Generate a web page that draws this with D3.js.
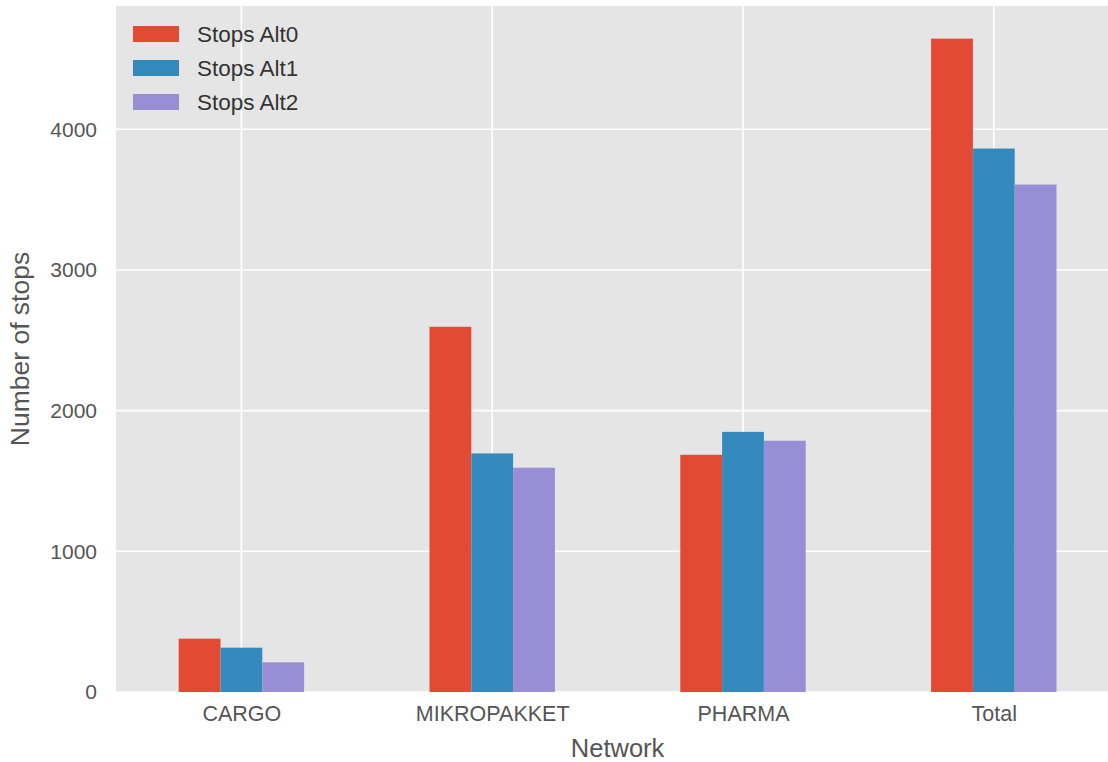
<!DOCTYPE html>
<html>
<head>
<meta charset="utf-8">
<script src="https://cdn.jsdelivr.net/npm/d3@7"></script>
<style>
  html, body { margin: 0; padding: 0; background: #fff; }
  svg { display: block; }
  text { font-family: "Liberation Sans", Arial, sans-serif; fill: #555; }
</style>
</head>
<body>
<svg id="chart" width="1108" height="762"></svg>
<script>
const categories = ["CARGO", "MIKROPAKKET", "PHARMA", "Total"];
const seriesNames = ["Stops Alt0", "Stops Alt1", "Stops Alt2"];
const alt0 = [379, 2596, 1686, 4644];
const alt1 = [315, 1696, 1849, 3863];
const alt2 = [211, 1594, 1786, 3607];
const yTicks = [0, 1000, 2000, 3000, 4000];
const colors = ["#E24A33", "#348ABD", "#988ED5"];

const series = [alt0, alt1, alt2];

(function () {
const FONT = "Liberation Sans, Arial, sans-serif";
const svg = d3.select("#chart");
const pLeft = 116, pTop = 6, pBottom = 692;
const unit = 250.8;
const pRight = pLeft + unit * 4;

const x = d3.scaleLinear().domain([-0.5, 3.5]).range([pLeft, pRight]);
const ymax = d3.max(series.flat()) * 1.05;
const y = d3.scaleLinear().domain([0, ymax]).range([pBottom, pTop]);

// background
svg.append("rect").attr("x", pLeft).attr("y", pTop)
  .attr("width", pRight - pLeft).attr("height", pBottom - pTop)
  .attr("fill", "#E5E5E5");

// grid
const g = svg.append("g");
g.selectAll(".hg").data(yTicks).enter().append("line")
  .attr("x1", pLeft).attr("x2", pRight)
  .attr("y1", d => y(d)).attr("y2", d => y(d))
  .attr("stroke", "#fff").attr("stroke-width", 1.6);
g.selectAll(".vg").data(categories).enter().append("line")
  .attr("x1", (d, i) => x(i)).attr("x2", (d, i) => x(i))
  .attr("y1", pTop).attr("y2", pBottom)
  .attr("stroke", "#fff").attr("stroke-width", 1.6);

// bars
const bw = 0.5 / 3;
series.forEach((vals, s) => {
  svg.append("g").selectAll("rect").data(vals).enter().append("rect")
    .attr("x", (d, i) => x(i - 0.25 + s * bw))
    .attr("width", x(bw) - x(0))
    .attr("y", d => y(d))
    .attr("height", d => y(0) - y(d))
    .attr("fill", colors[s]);
});

// y axis
const yAxis = svg.append("g").attr("transform", `translate(${pLeft},0)`)
  .call(d3.axisLeft(y).tickValues(yTicks).tickSize(0).tickPadding(19).tickFormat(d3.format("d")));
yAxis.select(".domain").remove();
yAxis.selectAll("text").attr("font-size", 21).style("fill", "#555")
  .attr("font-family", FONT);

// x axis
const xAxis = svg.append("g").attr("transform", `translate(0,${pBottom})`)
  .call(d3.axisBottom(x).tickValues(d3.range(categories.length)).tickSize(0).tickPadding(14)
    .tickFormat(i => categories[i]));
xAxis.select(".domain").remove();
xAxis.selectAll("text").attr("font-size", 21.5).style("fill", "#555")
  .attr("font-family", FONT);

// axis labels
svg.append("text").attr("x", (pLeft + pRight) / 2).attr("y", 757)
  .attr("text-anchor", "middle").attr("font-size", 25.5).attr("font-family", FONT).text("Network");
svg.append("text")
  .attr("transform", `translate(29,${(pTop + pBottom) / 2}) rotate(-90)`)
  .attr("text-anchor", "middle").attr("font-size", 26.5).attr("font-family", FONT).text("Number of stops");

// legend
const leg = svg.append("g");
seriesNames.forEach((name, i) => {
  const cy = 34 + i * 34;
  leg.append("rect").attr("x", 133).attr("y", cy - 8).attr("width", 46).attr("height", 16)
    .attr("fill", colors[i]);
  leg.append("text").attr("x", 197).attr("y", cy + 7.5)
    .attr("font-size", 22.5).attr("font-family", FONT).style("fill", "#333").text(name);
});
})();
</script>
</body>
</html>
